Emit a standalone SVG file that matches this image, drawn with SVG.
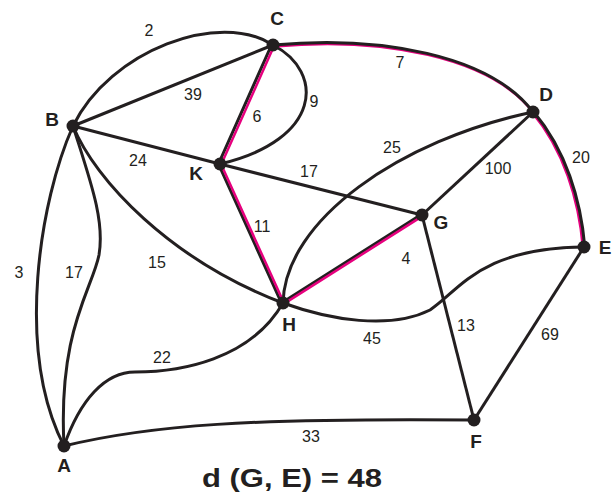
<svg xmlns="http://www.w3.org/2000/svg" width="613" height="496" viewBox="0 0 613 496">
<style>
.e{fill:none;stroke:#231f20;stroke-width:3}
.p{fill:none;stroke:#e6007e;stroke-width:2.5}
.n{fill:#231f20}
.w{font-family:"Liberation Sans",Arial,sans-serif;font-size:16px;fill:#231f20;text-anchor:middle}
.l{font-family:"Liberation Sans",Arial,sans-serif;font-size:19px;font-weight:bold;fill:#231f20;text-anchor:middle}
</style>
<rect width="613" height="496" fill="#fff"/>
<g id="connectors">
<path class="e" d="M73,126 C110,50 220,10 273,45"/>
<path class="e" d="M73,126 L273,45"/>
<path class="e" d="M273,45 C325,72 322,140 220,164"/>
<path class="e" d="M73,126 L220,164"/>
<path class="e" d="M220,164 L422,215"/>
<path class="e" d="M73,126 C95,180 170,260 283,303"/>
<path class="e" d="M73,126 C90,180 105,220 99,255 C92,290 58,330 64,446"/>
<path class="e" d="M73,126 C40,200 15,350 64,446"/>
<path class="e" d="M64,446 C80,400 105,372 135,372 C180,372 250,360 283,303"/>
<path class="e" d="M64,446 C150,425 250,418 474,420"/>
<path class="e" d="M283,303 C330,320 390,330 430,310 C460,290 480,248 584,247"/>
<path class="e" d="M283,303 C285,220 400,140 533,112"/>
<path class="e" d="M533,112 L422,215"/>
<path class="e" d="M422,215 L474,420"/>
<path class="e" d="M584,247 L474,420"/>
<path class="p" transform="translate(1,1.5)" d="M273,45 C380,35 490,55 533,112"/>
<path class="e" d="M273,45 C380,35 490,55 533,112"/>
<path class="p" transform="translate(-1.2,0)" d="M533,112 C565,150 580,200 584,247"/>
<path class="e" d="M533.8,112 C565.8,150 580.8,200 584.8,247"/>
<path class="e" stroke-width="2" transform="translate(-1.5,0)" d="M273,45 L220,164 L283,303 L422,215"/>
<path class="p" stroke-width="3.5" transform="translate(1.2,0.6)" d="M273,45 L220,164 L283,303 L422,215"/>
</g>
<g id="node-A"><circle class="n" cx="64" cy="446" r="6.5"/><text class="l" x="64" y="472">A</text></g>
<g id="node-B"><circle class="n" cx="73" cy="126" r="6.5"/><text class="l" x="52" y="126">B</text></g>
<g id="node-C"><circle class="n" cx="273" cy="45" r="6.5"/><text class="l" x="277" y="25">C</text></g>
<g id="node-D"><circle class="n" cx="533" cy="112" r="6.5"/><text class="l" x="546" y="101">D</text></g>
<g id="node-E"><circle class="n" cx="584" cy="247" r="6.5"/><text class="l" x="605" y="254">E</text></g>
<g id="node-F"><circle class="n" cx="474" cy="420" r="6.5"/><text class="l" x="476" y="448">F</text></g>
<g id="node-G"><circle class="n" cx="422" cy="215" r="6.5"/><text class="l" x="441" y="229">G</text></g>
<g id="node-H"><circle class="n" cx="283" cy="303" r="6.5"/><text class="l" x="289" y="331">H</text></g>
<g id="node-K"><circle class="n" cx="220" cy="164" r="6.5"/><text class="l" x="196" y="180">K</text></g>
<g id="weights">
<text class="w" x="149" y="36">2</text>
<text class="w" x="193" y="100">39</text>
<text class="w" x="257" y="122">6</text>
<text class="w" x="314" y="107">9</text>
<text class="w" x="138" y="166">24</text>
<text class="w" x="309" y="177">17</text>
<text class="w" x="262" y="232">11</text>
<text class="w" x="157" y="268">15</text>
<text class="w" x="19" y="278">3</text>
<text class="w" x="74" y="278">17</text>
<text class="w" x="162" y="363">22</text>
<text class="w" x="311" y="442">33</text>
<text class="w" x="400" y="68">7</text>
<text class="w" x="392" y="153">25</text>
<text class="w" x="498" y="174">100</text>
<text class="w" x="581" y="163">20</text>
<text class="w" x="406" y="264">4</text>
<text class="w" x="372" y="344">45</text>
<text class="w" x="466" y="331">13</text>
<text class="w" x="550" y="340">69</text>
</g>
<text x="202" y="487" font-family="Liberation Sans, Arial, sans-serif" font-size="26" font-weight="bold" fill="#231f20" textLength="180" lengthAdjust="spacingAndGlyphs">d (G, E) = 48</text>
</svg>
